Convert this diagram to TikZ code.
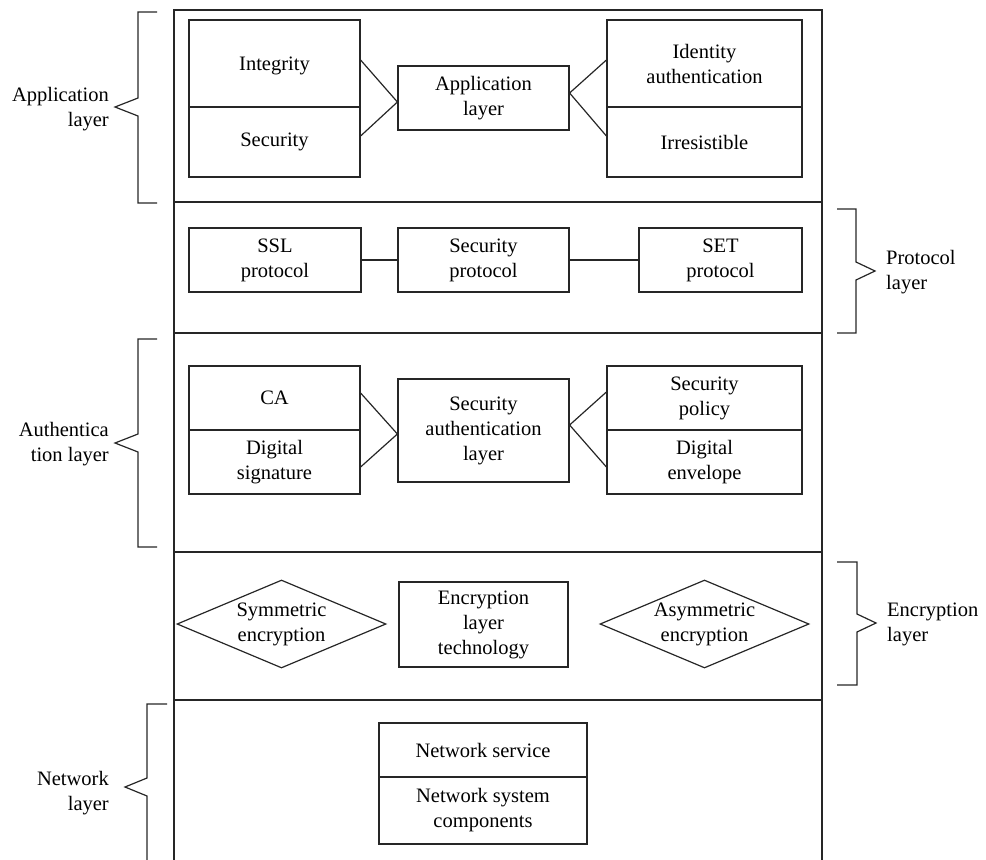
\documentclass[tikz,border=0pt]{standalone}
\usepackage{fontspec}
\setmainfont{Liberation Serif}
\usetikzlibrary{shapes.geometric}

\tikzset{
  ln/.style={draw=black!85, line width=1.2pt},
  cell/.style={ln, rectangle, inner sep=0pt, align=center,
    font=\fontsize{20.5}{25}\selectfont},
  gem/.style={ln, diamond, aspect=2.375, inner sep=0pt, align=center,
    minimum width=209pt, minimum height=88pt,
    font=\fontsize{20.5}{25}\selectfont},
  lab/.style={inner sep=0pt, font=\fontsize{20.5}{25}\selectfont},
  link/.style={ln, line join=miter},
  brace/.style={ln, line join=miter}
}

\begin{document}
\begin{tikzpicture}[x=1pt, y=-1pt]
\useasboundingbox (0,0) rectangle (986,860);
\begin{scope}
\clip (0,0) rectangle (986,860);

% ---- layer bands ----
\draw[ln] (174,860) -- (174,10) -- (822,10) -- (822,860);
\draw[ln] (174,202) -- (822,202);
\draw[ln] (174,333) -- (822,333);
\draw[ln] (174,552) -- (822,552);
\draw[ln] (174,700) -- (822,700);

% ---- application layer ----
\node[cell, minimum width=171pt, minimum height=87pt, text depth=-8pt] (integ) at (274.5,63.5) {Integrity};
\node[cell, minimum width=171pt, minimum height=70pt] (secu) at (274.5,142) {Security};
\node[cell, minimum width=195pt, minimum height=87pt] (ident) at (704.5,63.5) {Identity\\authentication};
\node[cell, minimum width=195pt, minimum height=70pt] (irres) at (704.5,142) {Irresistible};
\node[cell, minimum width=171pt, minimum height=64pt] (app) at (483.5,98) {Application\\layer};
\draw[link] ([yshift=3.5pt]integ.east) -- ([yshift=-4pt]app.west) -- ([yshift=6pt]secu.east);
\draw[link] ([yshift=3.5pt]ident.west) -- ([yshift=5pt]app.east) -- ([yshift=6pt]irres.west);

% ---- protocol layer ----
\node[cell, minimum width=172pt, minimum height=64pt] (ssl) at (275,260) {SSL\\protocol};
\node[cell, minimum width=171pt, minimum height=64pt] (secp) at (483.5,260) {Security\\protocol};
\node[cell, minimum width=163pt, minimum height=64pt] (set) at (720.5,260) {SET\\protocol};
\draw[link] (ssl) -- (secp);
\draw[link] (secp) -- (set);

% ---- authentication layer ----
\node[cell, minimum width=171pt, minimum height=64pt] (ca) at (274.5,398) {CA};
\node[cell, minimum width=171pt, minimum height=64pt] (dsig) at (274.5,462) {Digital\\signature};
\node[cell, minimum width=195pt, minimum height=64pt] (spol) at (704.5,398) {Security\\policy};
\node[cell, minimum width=195pt, minimum height=64pt] (denv) at (704.5,462) {Digital\\envelope};
\node[cell, minimum width=171pt, minimum height=103pt] (sal) at (483.5,430.5) {Security\\authentication\\layer};
\draw[link] ([yshift=5pt]ca.east) -- ([yshift=-3.5pt]sal.west) -- ([yshift=-5pt]dsig.east);
\draw[link] ([yshift=6pt]spol.west) -- ([yshift=5.5pt]sal.east) -- ([yshift=-5pt]denv.west);

% ---- encryption layer ----
\node[gem] (sym) at (281.5,624) {Symmetric\\encryption};
\node[cell, minimum width=169pt, minimum height=85pt] (elt) at (483.5,624.5) {Encryption\\layer\\technology};
\node[gem] (asym) at (704.5,624) {Asymmetric\\encryption};

% ---- network layer ----
\node[cell, minimum width=208pt, minimum height=54pt] (nsv) at (483,750) {Network service};
\node[cell, minimum width=208pt, minimum height=67pt] (nsc) at (483,810.5) {Network system\\components};

% ---- side braces ----
\draw[brace] (157,12) -- (138,12) -- (138,98) -- (115,107) -- (138,116) -- (138,203) -- (157,203);
\draw[brace] (157,339) -- (138,339) -- (138,434) -- (115,443) -- (138,452) -- (138,547) -- (157,547);
\draw[brace] (167,704) -- (147,704) -- (147,778) -- (125,787) -- (147,796) -- (147,870);
\draw[brace] (837,209) -- (856,209) -- (856,262) -- (875,271) -- (856,280) -- (856,333) -- (837,333);
\draw[brace] (837,562) -- (857,562) -- (857,614) -- (876,623) -- (857,632) -- (857,685) -- (837,685);

% ---- side labels ----
\node[lab, anchor=east, align=right] (lapp) at (109,109) {Application\\layer};
\node[lab, anchor=east, align=right] (lauth) at (109,444) {Authentica\\tion layer};
\node[lab, anchor=east, align=right] (lnet) at (109,793) {Network\\layer};
\node[lab, anchor=west, align=left] (lpro) at (886,272) {Protocol\\layer};
\node[lab, anchor=west, align=left] (lenc) at (887,624) {Encryption\\layer};
\end{scope}
\end{tikzpicture}
\end{document}
